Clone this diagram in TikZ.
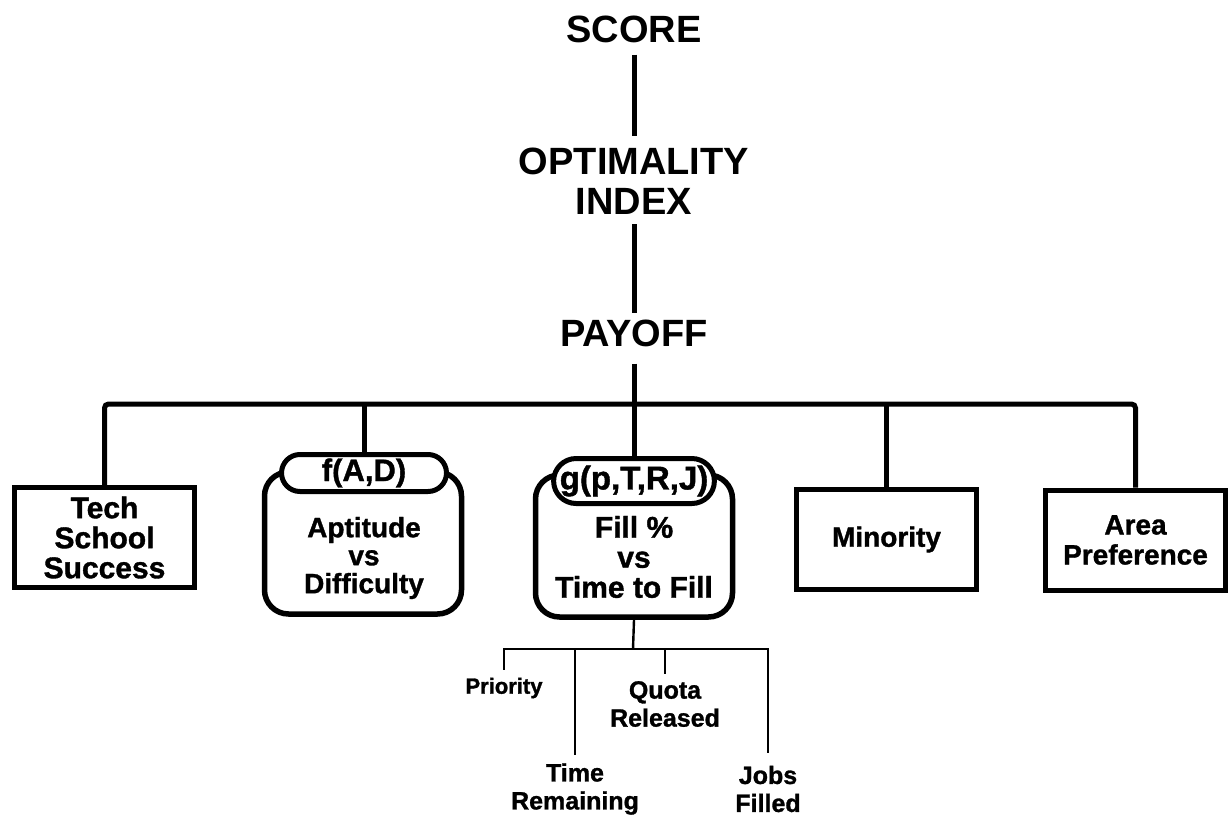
\documentclass[tikz,border=0pt]{standalone}
\usepackage{fontspec}
\setmainfont{Liberation Sans}
\newfontfamily\heavyfont{Liberation Sans}[BoldFeatures={FakeBold=1.2}]
\usetikzlibrary{shapes.misc}

\begin{document}
\begin{tikzpicture}[x=1pt,y=-1pt,
  heavy/.style={line width=5pt},
  thinline/.style={line width=2.4pt},
  title/.style={font=\fontsize{38}{40}\selectfont\bfseries, inner sep=0pt, align=center},
  sqbox/.style={draw, line width=5pt, minimum width=180pt, minimum height=100pt,
    inner sep=0pt, align=center, font=\heavyfont\bfseries\fontsize{28}{30}\selectfont},
  roundbox/.style={draw, line width=5.5pt, rounded corners=24pt,
    minimum width=197pt, minimum height=142pt, inner sep=0pt},
  pill/.style={draw, fill=white, line width=5pt, rounded rectangle, inner sep=0pt},
  boxtext/.style={inner sep=0pt, align=center},
  leaf/.style={inner sep=0pt, align=center, font=\heavyfont\bfseries\fontsize{25}{28}\selectfont}
]
\useasboundingbox (0,0) rectangle (1230,824);

% top of the hierarchy
\node[title] (score)  at (634,29)  {SCORE};
\node[title] (optidx) at (634,181) {OPTIMALITY\\INDEX};
\node[title] (payoff) at (634,333) {PAYOFF};
\coordinate (bus) at (634,404);

% the five payoff components
\node[sqbox, font=\heavyfont\bfseries\fontsize{30}{30}\selectfont] (tech) at (104.5,537.5) {Tech\\School\\Success};
\node[sqbox] (minor) at (886.5,539.5) {Minority};
\node[sqbox] (area)  at (1135.5,540)  {Area\\Preference};

\node[roundbox] (aptbox) at (363,543) {};
\node[pill, minimum width=165pt, minimum height=37pt,
  font=\heavyfont\bfseries\fontsize{31}{32}\selectfont] (aptfn) at (364,473) {f(A,D)};
\node[boxtext, font=\heavyfont\bfseries\fontsize{28}{28}\selectfont] (apttext) at (364,558) {Aptitude\\vs\\Difficulty};

\node[roundbox] (fillbox) at (634,546) {};
\node[pill, minimum width=157pt, minimum height=45pt,
  font=\heavyfont\bfseries\fontsize{33}{34}\selectfont] (fillfn) at (634,481) {g(p,T,R,J)};
\node[boxtext, font=\heavyfont\bfseries\fontsize{30}{30}\selectfont] (filltext) at (634,557) {Fill \%\\vs\\Time to Fill};

% arguments of g
\node[leaf, font=\heavyfont\bfseries\fontsize{22}{26}\selectfont] (prio) at (504,688) {Priority};
\node[leaf] (quota) at (665,704) {Quota\\Released};
\node[leaf] (trem)  at (575,789) {Time\\Remaining};
\node[leaf] (jobs)  at (768,789) {Jobs\\Filled};
\coordinate (sub) at (633,649);

% connectors
\draw[heavy] ([yshift=-12pt]score.south) -- ([yshift=12pt]optidx.north);
\draw[heavy] ([yshift=-10pt]optidx.south) -- ([yshift=6pt]payoff.north);
\draw[heavy] ([yshift=-17pt]payoff.south) -- (fillfn.north);
\draw[heavy, rounded corners=4pt] (tech.north) |- (bus) -| (area.north);
\draw[heavy] (bus -| aptfn.north) -- (aptfn.north);
\draw[heavy] (bus -| minor.north) -- (minor.north);

\draw[thinline] (fillbox.south) -- (sub);
\draw[thinline] ([yshift=8pt]prio.north) |- (sub) -| ([yshift=13pt]jobs.north);
\draw[thinline] (quota.north |- sub) -- ([yshift=7pt]quota.north);
\draw[thinline] (trem.north |- sub) -- ([yshift=8pt]trem.north);
\end{tikzpicture}
\end{document}
